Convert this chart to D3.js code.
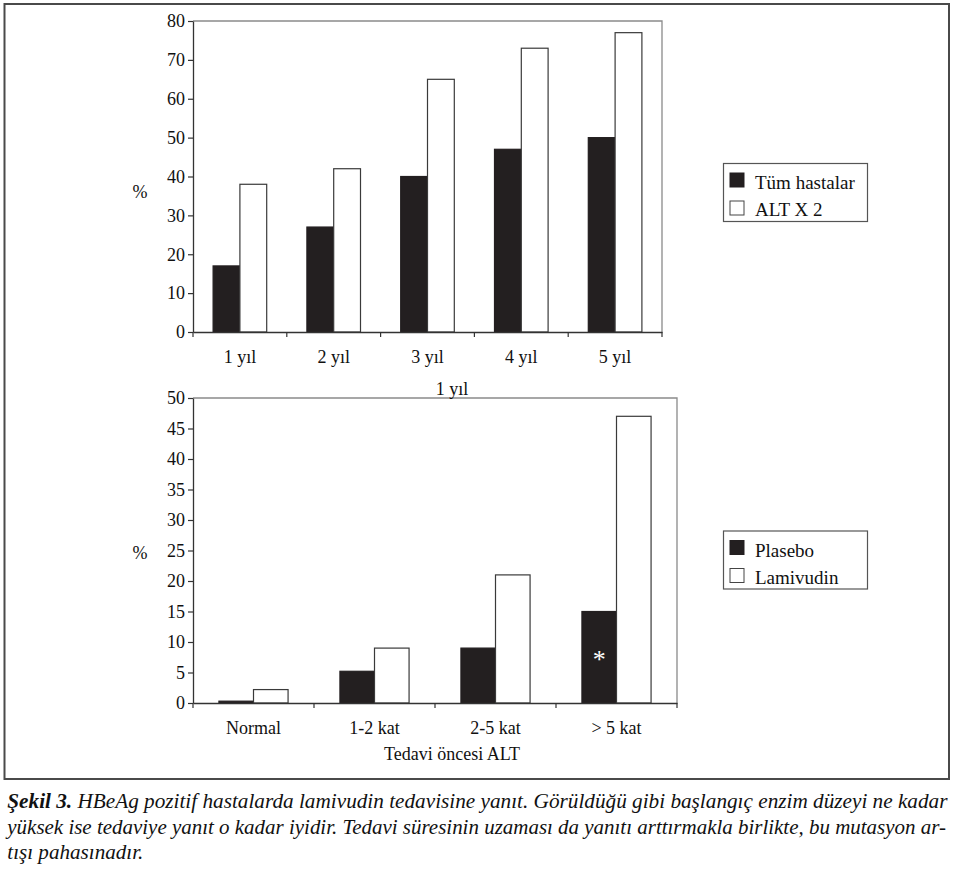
<!DOCTYPE html>
<html>
<head>
<meta charset="utf-8">
<script src="https://cdn.jsdelivr.net/npm/d3@7"></script>
<style>
  html, body { margin: 0; padding: 0; background: #fff; }
  svg { display: block; }
  text { font-family: "Liberation Serif", "Times New Roman", serif; fill: #111; }
</style>
</head>
<body>
<svg id="chart" width="955" height="874"></svg>
<script>
// ---- Data ----
const years = ["1 yıl", "2 yıl", "3 yıl", "4 yıl", "5 yıl"];
const topSeries = ["Tüm hastalar", "ALT X 2"];
const allPatients = [17, 27, 40, 47, 50];
const altX2 = [38, 42, 65, 73, 77];
const topTicks = [0, 10, 20, 30, 40, 50, 60, 70, 80];

const altLevels = ["Normal", "1-2 kat", "2-5 kat", "> 5 kat"];
const bottomSeries = ["Plasebo", "Lamivudin"];
const placebo = [0.3, 5.2, 9, 15];
const lamivudin = [2.2, 9, 21, 47];
const bottomTicks = [0, 5, 10, 15, 20, 25, 30, 35, 40, 45, 50];

const bottomTitle = "1 yıl";
const bottomXTitle = "Tedavi öncesi ALT";
const yTitle = "%";
const captionBold = "Şekil 3.";
const captionLines = [
  " HBeAg pozitif hastalarda lamivudin tedavisine yanıt. Görüldüğü gibi başlangıç enzim düzeyi ne kadar",
  "yüksek ise tedaviye yanıt o kadar iyidir. Tedavi süresinin uzaması da yanıtı arttırmakla birlikte, bu mutasyon ar-",
  "tışı pahasınadır."
];

const svg = d3.select("#chart");
const BLACK = "#231f20";

// outer frame
svg.append("rect").attr("x", 4.5).attr("y", 4).attr("width", 944.5).attr("height", 775)
  .attr("fill", "none").attr("stroke", "#4a4a4a").attr("stroke-width", 2);

function drawPanel(cfg) {
  const { cats, s1, s2, ticks, yMax, left, right, top, bottom, names, legendY, pctY, asteriskIdx } = cfg;
  const g = svg.append("g");
  const x = d3.scaleBand().domain(cats).range([left, right]).paddingInner(0).paddingOuter(0);
  const bw = x.bandwidth();
  const x1 = d3.scaleBand().domain([0, 1]).range([bw * 0.75 / 3.5, bw * 2.75 / 3.5]).padding(0);
  const y = d3.scaleLinear().domain([0, yMax]).range([bottom, top]);

  // frame (top & right in gray)
  g.append("path")
    .attr("d", `M${left},${top}H${right}V${bottom}`)
    .attr("fill", "none").attr("stroke", "#8a8a8a").attr("stroke-width", 1.3);

  // bars
  const rows = cats.map((c, i) => ({ c, v: [s1[i], s2[i]] }));
  const grp = g.selectAll("g.grp").data(rows).join("g").attr("class", "grp")
    .attr("transform", d => `translate(${x(d.c)},0)`);
  grp.selectAll("rect").data(d => d.v.map((v, k) => ({ v, k })))
    .join("rect")
    .attr("x", d => x1(d.k))
    .attr("width", x1.bandwidth())
    .attr("y", d => y(d.v))
    .attr("height", d => y(0) - y(d.v))
    .attr("fill", d => d.k === 0 ? BLACK : "#fff")
    .attr("stroke", d => d.k === 0 ? BLACK : "#3a3a3a")
    .attr("stroke-width", 1.2);

  // asterisk
  if (asteriskIdx != null) {
    const c = cats[asteriskIdx];
    g.append("text")
      .attr("x", x(c) + x1(0) + x1.bandwidth() / 2)
      .attr("y", y(s1[asteriskIdx] * 0.3) - 8)
      .attr("text-anchor", "middle")
      .style("fill", "#fff").attr("font-size", 26).text("*");
  }

  // y axis
  const ya = g.append("g").attr("transform", `translate(${left},0)`)
    .call(d3.axisLeft(y).tickValues(ticks).tickSize(5).tickPadding(3).tickSizeOuter(0));
  ya.select(".domain").attr("stroke", "#333").attr("stroke-width", 1.3);
  ya.selectAll(".tick line").attr("stroke", "#333").attr("stroke-width", 1.2);
  ya.selectAll(".tick text").attr("font-size", 18).style("fill", "#111");

  // x axis: labels at band centers, ticks at band boundaries
  const xa = g.append("g").attr("transform", `translate(0,${bottom})`)
    .call(d3.axisBottom(x).tickSize(0).tickPadding(18).tickSizeOuter(0));
  xa.select(".domain").attr("stroke", "#333").attr("stroke-width", 1.3);
  xa.selectAll(".tick text").attr("font-size", 18).style("fill", "#111");
  const bounds = cats.map(c => x(c)).concat([right]);
  g.selectAll("line.bt").data(bounds).join("line").attr("class", "bt")
    .attr("x1", d => d).attr("x2", d => d)
    .attr("y1", bottom).attr("y2", bottom + 5)
    .attr("stroke", "#333").attr("stroke-width", 1.2);

  // % label
  g.append("text").attr("x", 140).attr("y", pctY).attr("text-anchor", "middle")
    .attr("font-size", 18).text(yTitle);

  // legend
  const lg = g.append("g").attr("transform", `translate(723.5,${legendY})`);
  lg.append("rect").attr("width", 144).attr("height", 58)
    .attr("fill", "#fff").attr("stroke", "#555").attr("stroke-width", 1.2);
  names.forEach((n, k) => {
    lg.append("rect").attr("x", 6.5).attr("y", 9.5 + k * 28).attr("width", 14).attr("height", 14)
      .attr("fill", k === 0 ? BLACK : "#fff").attr("stroke", k === 0 ? BLACK : "#444").attr("stroke-width", 1);
    lg.append("text").attr("x", 31.5).attr("y", 25.5 + k * 27).attr("font-size", 19).text(n);
  });
  return { x, y };
}

drawPanel({ cats: years, s1: allPatients, s2: altX2, ticks: topTicks, yMax: 80,
  left: 193, right: 662, top: 21, bottom: 332, names: topSeries, legendY: 163.5, pctY: 198 });

drawPanel({ cats: altLevels, s1: placebo, s2: lamivudin, ticks: bottomTicks, yMax: 50,
  left: 193, right: 677, top: 398, bottom: 703, names: bottomSeries, legendY: 531, pctY: 559, asteriskIdx: 3 });

// bottom titles
svg.append("text").attr("x", 452).attr("y", 395).attr("text-anchor", "middle").attr("font-size", 18).text(bottomTitle);
svg.append("text").attr("x", 452).attr("y", 760).attr("text-anchor", "middle").attr("font-size", 18).text(bottomXTitle);

// caption
const capY = [808, 834, 859];
const capTargets = [940.5, 939.5, null];
const scales = [];
captionLines.forEach((line, i) => {
  const g = svg.append("g").attr("transform", `translate(7.3,${capY[i]})`);
  const t = g.append("text").attr("x", 0).attr("y", 0).attr("font-size", 21).attr("font-style", "italic");
  if (i === 0) t.append("tspan").attr("font-weight", "bold").text(captionBold);
  t.append("tspan").text(line);
  const w = t.node().getComputedTextLength();
  let s;
  if (capTargets[i] != null) { s = capTargets[i] / w; scales.push(s); }
  else s = d3.mean(scales);
  t.attr("transform", `scale(${s},1)`);
});
</script>
</body>
</html>
